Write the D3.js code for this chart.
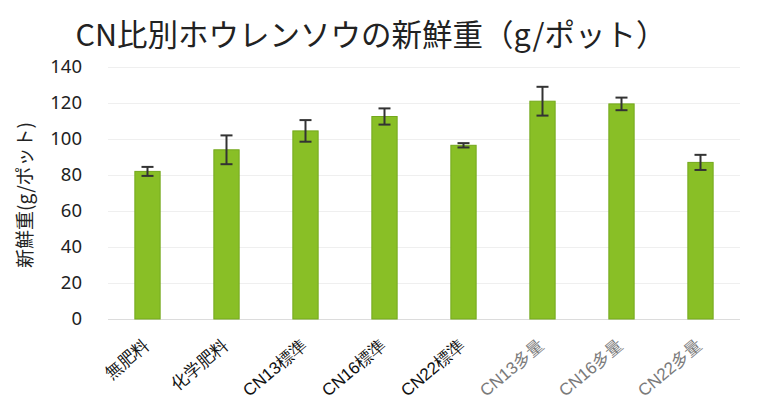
<!DOCTYPE html>
<html>
<head>
<meta charset="utf-8">
<script src="https://cdn.jsdelivr.net/npm/d3@7"></script>
<style>
  html, body { margin: 0; padding: 0; background: #fff; }
  svg { display: block; font-family: "Noto Sans CJK JP", "Noto Sans", sans-serif; }
</style>
</head>
<body>
<svg id="chart" width="762" height="403"></svg>
<script>
// Treatments (C/N ratio and application level)
const categories = ["無肥料", "化学肥料", "CN13標準", "CN16標準", "CN22標準", "CN13多量", "CN16多量", "CN22多量"];
// Mean fresh weight per pot (g) and its error
const freshWeight = [82, 94, 104.5, 112.5, 96.5, 121, 119.5, 87];
const errorValues = [2.5, 8, 6, 4.5, 1.2, 8, 3.5, 4.2];
const yTicks = [0, 20, 40, 60, 80, 100, 120, 140];
// Label shade per treatment (the 多量 group is printed lighter)
const labelColors = ["#111", "#111", "#111", "#111", "#111", "#7a7a7a", "#7a7a7a", "#7a7a7a"];

const svg = d3.select("#chart");
const margin = { left: 108, right: 22, top: 67, bottom: 84 };
const W = 762, H = 403;

const x = d3.scaleBand()
  .domain(categories)
  .range([margin.left, W - margin.right])
  .paddingInner(0.68)
  .paddingOuter(0.34);

const y = d3.scaleLinear()
  .domain([0, 140])
  .range([H - margin.bottom, margin.top]);

// Title
svg.append("text")
  .attr("x", 371)
  .attr("y", 46)
  .attr("text-anchor", "middle")
  .attr("font-size", 30.5)
  .attr("fill", "#222")
  .text("CN比別ホウレンソウの新鮮重（g/ポット）");

// Faint horizontal gridlines
svg.append("g")
  .selectAll("line")
  .data(yTicks)
  .join("line")
  .attr("x1", margin.left)
  .attr("x2", W - margin.right)
  .attr("y1", d => y(d) + 0.5)
  .attr("y2", d => y(d) + 0.5)
  .attr("stroke", d => d === 0 ? "#dcdcdc" : "#efefef")
  .attr("stroke-width", 1);

// Y axis labels
const yAxis = d3.axisLeft(y).tickValues(yTicks).tickSize(0).tickPadding(0);
const gy = svg.append("g")
  .attr("transform", `translate(${margin.left - 26},0)`)
  .call(yAxis);
gy.select(".domain").remove();
gy.selectAll("text")
  .attr("font-size", 18.5)
  .attr("fill", "#222")
  .attr("font-family", "'Noto Sans', sans-serif");

// Y axis title
svg.append("text")
  .attr("transform", "translate(32,195) rotate(-90)")
  .attr("text-anchor", "middle")
  .attr("font-size", 19)
  .attr("fill", "#222")
  .text("新鮮重(g/ポット)");

// Bars
svg.append("g")
  .selectAll("rect")
  .data(freshWeight)
  .join("rect")
  .attr("x", (d, i) => x(categories[i]))
  .attr("width", x.bandwidth())
  .attr("y", d => y(d))
  .attr("height", d => y(0) - y(d))
  .attr("fill", "#89bf26")
  .attr("stroke", "#74a81c")
  .attr("stroke-width", 1);

// Error bars
const eb = svg.append("g").attr("stroke", "#333").attr("stroke-width", 2);
freshWeight.forEach((v, i) => {
  const cx = x(categories[i]) + x.bandwidth() / 2;
  const hi = y(v + errorValues[i]);
  const lo = y(v - errorValues[i]);
  eb.append("line").attr("x1", cx).attr("x2", cx).attr("y1", hi).attr("y2", lo);
  eb.append("line").attr("x1", cx - 6).attr("x2", cx + 6).attr("y1", hi).attr("y2", hi);
  eb.append("line").attr("x1", cx - 6).attr("x2", cx + 6).attr("y1", lo).attr("y2", lo);
});

// X axis labels, rotated
const xAxis = d3.axisBottom(x).tickSize(0).tickPadding(0);
const gx = svg.append("g")
  .attr("transform", `translate(0,${y(0)})`)
  .call(xAxis);
gx.select(".domain").remove();
gx.selectAll(".tick text")
  .attr("font-size", 17)
  .attr("fill", (d, i) => labelColors[i])
  .attr("text-anchor", "end")
  .attr("dy", "0.35em")
  .attr("transform", "translate(-1,24) rotate(-40)");
</script>
</body>
</html>
